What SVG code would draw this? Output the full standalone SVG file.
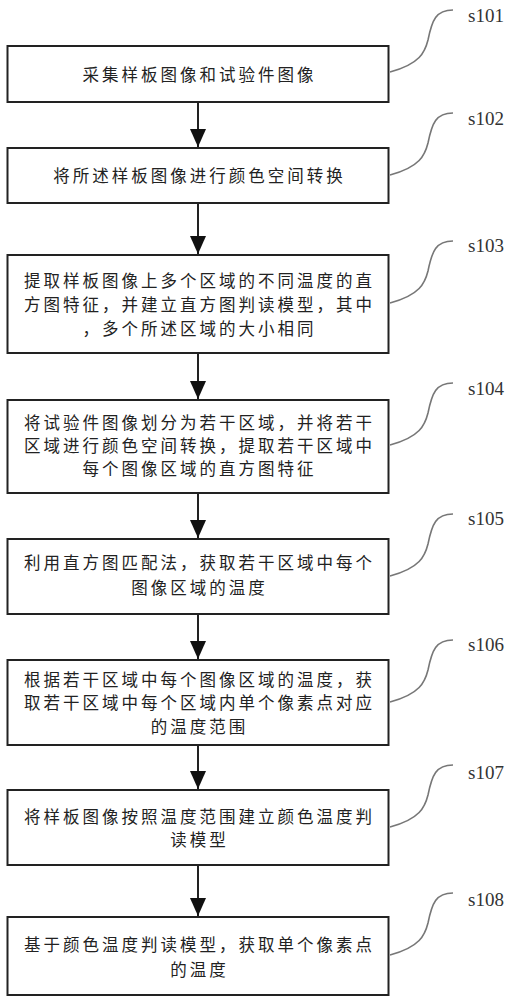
<svg xmlns="http://www.w3.org/2000/svg" width="516" height="1000" viewBox="0 0 516 1000">
<defs>
<style>
.box{fill:#fff;stroke:#222;stroke-width:2}
.t{font-family:"Noto Sans CJK SC","Noto Sans CJK TC",sans-serif;font-size:16.5px;letter-spacing:3px;fill:#222;text-anchor:middle}
.lbl{font-family:"Liberation Serif",serif;font-size:19px;fill:#333}
.conn{stroke:#222;stroke-width:2;fill:none}
.lead{stroke:#777;stroke-width:1.6;fill:none}
</style>
<marker id="ah" markerWidth="18" markerHeight="16" refX="18" refY="8" orient="auto" markerUnits="userSpaceOnUse" viewBox="0 0 18 16">
<path d="M0,0 L18,8 L0,16 Z" fill="#111"/>
</marker>
</defs>
<rect width="516" height="1000" fill="#fff"/>
<g id="connectors">
<line class="conn" x1="198" y1="102" x2="198" y2="147" marker-end="url(#ah)"/>
<line class="conn" x1="198" y1="203" x2="198" y2="254" marker-end="url(#ah)"/>
<line class="conn" x1="198" y1="353" x2="198" y2="399" marker-end="url(#ah)"/>
<line class="conn" x1="198" y1="493" x2="198" y2="538" marker-end="url(#ah)"/>
<line class="conn" x1="198" y1="614" x2="198" y2="659" marker-end="url(#ah)"/>
<line class="conn" x1="198" y1="745" x2="198" y2="789" marker-end="url(#ah)"/>
<line class="conn" x1="198" y1="865" x2="198" y2="916" marker-end="url(#ah)"/>
</g>
<g id="s101">
<rect class="box" x="7.5" y="46" width="381" height="56"/>
<text class="t" x="199.5" y="81">采集样板图像和试验件图像</text>
<path class="lead" d="M390,72 C420,64 425,52 428,40 C432,20 436,10 453,10"/>
<text class="lbl" x="468" y="22">s101</text>
</g>
<g id="s102">
<rect class="box" x="7.5" y="148" width="381" height="55"/>
<text class="t" x="199.5" y="182">将所述样板图像进行颜色空间转换</text>
<path class="lead" d="M390,175 C420,167 425,155 428,143 C432,123 436,113 453,113"/>
<text class="lbl" x="468" y="125">s102</text>
</g>
<g id="s103">
<rect class="box" x="7.5" y="255" width="381" height="98"/>
<text class="t" x="199.5" y="287">提取样板图像上多个区域的不同温度的直</text>
<text class="t" x="199.5" y="311">方图特征，并建立直方图判读模型，其中</text>
<text class="t" x="199.5" y="335">，多个所述区域的大小相同</text>
<path class="lead" d="M390,303 C420,295 425,283 428,271 C432,251 436,241 453,241"/>
<text class="lbl" x="468" y="252">s103</text>
</g>
<g id="s104">
<rect class="box" x="7.5" y="400" width="381" height="93"/>
<text class="t" x="199.5" y="429">将试验件图像划分为若干区域，并将若干</text>
<text class="t" x="199.5" y="452">区域进行颜色空间转换，提取若干区域中</text>
<text class="t" x="199.5" y="475">每个图像区域的直方图特征</text>
<path class="lead" d="M390,445 C420,437 425,425 428,413 C432,393 436,383 453,383"/>
<text class="lbl" x="468" y="395">s104</text>
</g>
<g id="s105">
<rect class="box" x="7.5" y="539" width="381" height="75"/>
<text class="t" x="199.5" y="569">利用直方图匹配法，获取若干区域中每个</text>
<text class="t" x="199.5" y="594">图像区域的温度</text>
<path class="lead" d="M390,576 C420,568 425,556 428,544 C432,524 436,514 453,514"/>
<text class="lbl" x="468" y="525">s105</text>
</g>
<g id="s106">
<rect class="box" x="7.5" y="660" width="381" height="85"/>
<text class="t" x="199.5" y="686">根据若干区域中每个图像区域的温度，获</text>
<text class="t" x="199.5" y="709">取若干区域中每个区域内单个像素点对应</text>
<text class="t" x="199.5" y="733">的温度范围</text>
<path class="lead" d="M390,702 C420,694 425,682 428,670 C432,650 436,640 453,640"/>
<text class="lbl" x="468" y="651">s106</text>
</g>
<g id="s107">
<rect class="box" x="7.5" y="790" width="381" height="75"/>
<text class="t" x="199.5" y="823">将样板图像按照温度范围建立颜色温度判</text>
<text class="t" x="199.5" y="846">读模型</text>
<path class="lead" d="M390,827 C420,819 425,807 428,795 C432,775 436,765 453,765"/>
<text class="lbl" x="468" y="779">s107</text>
</g>
<g id="s108">
<rect class="box" x="7.5" y="917" width="381" height="78"/>
<text class="t" x="199.5" y="951">基于颜色温度判读模型，获取单个像素点</text>
<text class="t" x="199.5" y="976">的温度</text>
<path class="lead" d="M390,955 C420,947 425,935 428,923 C432,903 436,893 453,893"/>
<text class="lbl" x="468" y="906">s108</text>
</g>
</svg>
